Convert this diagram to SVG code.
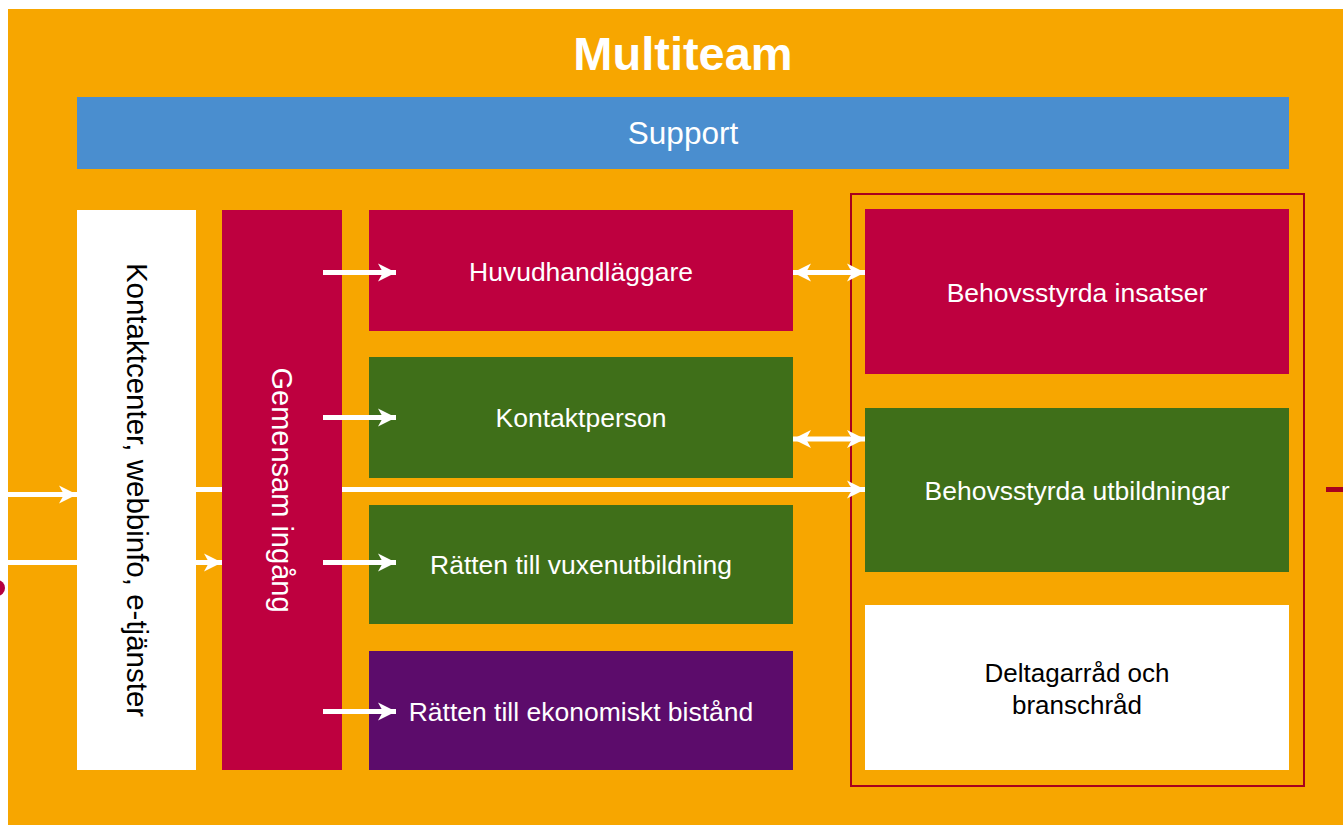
<svg xmlns="http://www.w3.org/2000/svg" width="1343" height="825" viewBox="0 0 1343 825">
<style>
.t{font-family:"Liberation Sans",Arial,sans-serif;fill:#fff;text-anchor:middle}
.b{font-size:26.5px}
.k{font-family:"Liberation Sans",Arial,sans-serif;fill:#000;text-anchor:middle}
.c{stroke:#fff;stroke-width:5;fill:none}
</style>
<defs>
<marker id="ah" markerUnits="userSpaceOnUse" markerWidth="20" markerHeight="20" viewBox="0 0 20 20" refX="18" refY="10" orient="auto-start-reverse">
<path d="M0,1 L18,10 L0,19 L5,10 Z" fill="#fff"/>
</marker>
</defs>
<rect width="1343" height="825" fill="#fff"/>
<rect id="bg" x="8" y="9" width="1335" height="816" fill="#F7A600"/>
<circle cx="-3" cy="588" r="8" fill="#B5003F"/>
<line x1="1326" y1="489.5" x2="1343" y2="489.5" stroke="#A8001E" stroke-width="5"/>
<g id="title"><text class="t" x="683" y="70" font-size="47" font-weight="bold">Multiteam</text></g>
<g id="support"><rect x="77" y="97" width="1212" height="72" fill="#4A8ECF"/><text class="t" x="683" y="144" font-size="31.5">Support</text></g>
<g id="kontaktcenter"><rect x="77" y="210" width="119" height="560" fill="#fff"/><text class="k" font-size="29.5" transform="translate(136.5,490) rotate(90)" x="0" y="10">Kontaktcenter, webbinfo, e-tjänster</text></g>
<g id="gemensam"><rect x="222" y="210" width="120" height="560" fill="#BE003F"/><text class="t" font-size="29" transform="translate(282,490) rotate(90)" x="0" y="10">Gemensam ingång</text></g>
<g id="huvud"><rect x="369" y="210" width="424" height="121" fill="#BE003F"/><text class="t b" x="581" y="281">Huvudhandläggare</text></g>
<g id="kontaktperson"><rect x="369" y="357" width="424" height="121" fill="#3F6F19"/><text class="t b" x="581" y="427">Kontaktperson</text></g>
<g id="vuxen"><rect x="369" y="505" width="424" height="119" fill="#3F6F19"/><text class="t b" x="581" y="574">Rätten till vuxenutbildning</text></g>
<g id="ekonomi"><rect x="369" y="651" width="424" height="119" fill="#5C0C6B"/><text class="t b" x="581" y="721">Rätten till ekonomiskt bistånd</text></g>
<g id="frame"><rect x="851" y="194" width="453" height="592" fill="none" stroke="#A8001E" stroke-width="2"/></g>
<g id="insatser"><rect x="865" y="209" width="424" height="165" fill="#BE003F"/><text class="t b" x="1077" y="302">Behovsstyrda insatser</text></g>
<g id="utbildningar"><rect x="865" y="408" width="424" height="164" fill="#3F6F19"/><text class="t b" x="1077" y="500">Behovsstyrda utbildningar</text></g>
<g id="deltagarrad"><rect x="865" y="605" width="424" height="165" fill="#fff"/><text class="k" x="1077" y="682" font-size="26">Deltagarråd och</text><text class="k" x="1077" y="714" font-size="26">branschråd</text></g>
<g id="connectors">
<line class="c" x1="8" y1="494.5" x2="77" y2="494.5" marker-end="url(#ah)"/>
<line class="c" x1="8" y1="562.5" x2="77" y2="562.5"/>
<line class="c" x1="196" y1="562.5" x2="222" y2="562.5" marker-end="url(#ah)"/>
<line class="c" x1="196" y1="489.5" x2="222" y2="489.5"/>
<line class="c" x1="342" y1="489.5" x2="865" y2="489.5" marker-end="url(#ah)"/>
<line class="c" x1="323" y1="272.5" x2="396" y2="272.5" marker-end="url(#ah)"/>
<line class="c" x1="323" y1="417.5" x2="396" y2="417.5" marker-end="url(#ah)"/>
<line class="c" x1="323" y1="562.5" x2="396" y2="562.5" marker-end="url(#ah)"/>
<line class="c" x1="323" y1="711.5" x2="396" y2="711.5" marker-end="url(#ah)"/>
<line class="c" x1="793" y1="272.5" x2="865" y2="272.5" marker-start="url(#ah)" marker-end="url(#ah)"/>
<line class="c" x1="793" y1="439" x2="865" y2="439" marker-start="url(#ah)" marker-end="url(#ah)"/>
</g>
</svg>
